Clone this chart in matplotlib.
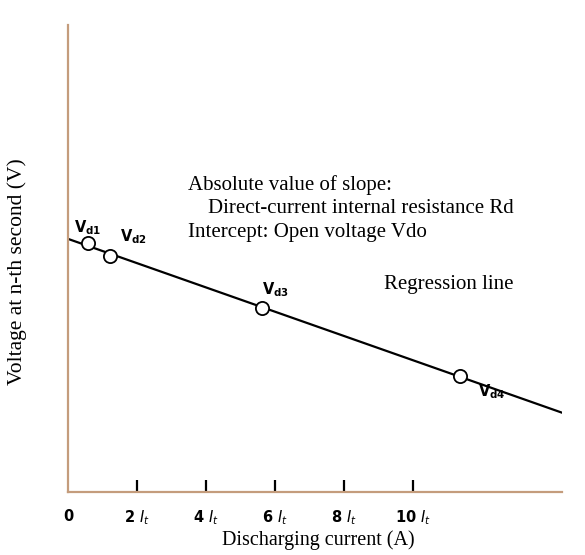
import matplotlib.pyplot as plt
import numpy as np

# measured points (current in units of I_t, voltage in arbitrary units)
current = [0.58, 1.22, 5.62, 11.36]
voltage = [5.33, 5.05, 3.94, 2.48]
point_labels = [r"$\mathbf{V_{d1}}$", r"$\mathbf{V_{d2}}$", r"$\mathbf{V_{d3}}$", r"$\mathbf{V_{d4}}$"]
tick_pos = [0, 2, 4, 6, 8, 10]
tick_labels = ["0", r"2 $\mathit{I}_t$", r"4 $\mathit{I}_t$", r"6 $\mathit{I}_t$",
               r"8 $\mathit{I}_t$", r"10 $\mathit{I}_t$"]

plt.rcParams['mathtext.fontset'] = 'dejavusans'
serif = 'Liberation Serif'

fig = plt.figure(figsize=(5.85, 5.55), dpi=100)
ax = fig.add_axes([68 / 585, 63 / 555, 494 / 585, 467 / 555])
ax.set_xlim(0, 14.32)
ax.set_ylim(0, 10)

# regression line through the points
slope, intercept = np.polyfit(current, voltage, 1)
xs = np.array([0, 14.32])
ax.plot(xs, slope * xs + intercept, color='black', lw=1.6, zorder=2)
ax.plot(current, voltage, 'o', ms=9.5, mfc='white', mec='black', mew=1.3, zorder=3, clip_on=False)

offsets = [(-10, 11), (7, 14), (0, 13), (13, -11)]
for x, y, lab, (dx, dy) in zip(current, voltage, point_labels, offsets):
    ax.annotate(lab, (x, y), xytext=(dx, dy), textcoords='offset points',
                fontsize=10.5, ha='left', va='center')

for s in ['top', 'right']:
    ax.spines[s].set_visible(False)
for s in ['left', 'bottom']:
    ax.spines[s].set_color('#c49c7c')
    ax.spines[s].set_linewidth(1.6)

ax.set_yticks([])
ax.set_xticks(tick_pos)
ax.set_xticklabels(tick_labels, fontweight='bold', fontsize=10.5)
ax.tick_params(axis='x', direction='in', length=9, width=1.6, pad=12)
ax.xaxis.get_major_ticks()[0].tick1line.set_visible(False)

fig.text(318 / 585, 1 - 540 / 555, "Discharging current (A)", family=serif, fontsize=14.5,
         ha='center', va='center')
fig.text(17 / 585, 1 - 272 / 555, "Voltage at n-th second (V)", family=serif, fontsize=15.5,
         rotation=90, ha='center', va='center')

txt = [("Absolute value of slope:", 188, 185),
       ("Direct-current internal resistance Rd", 208, 209),
       ("Intercept: Open voltage Vdo", 188, 232),
       ("Regression line", 384, 284)]
for t, px, py in txt:
    fig.text(px / 585, 1 - py / 555, t, fontsize=15, family=serif, va='center', ha='left')

fig.savefig("out.png", dpi=100)
